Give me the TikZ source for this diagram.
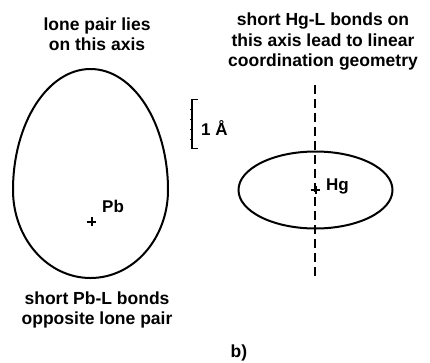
\documentclass[tikz,border=0pt]{standalone}
\usepackage{fontspec}
\setmainfont{Liberation Sans}
\begin{document}
\begin{tikzpicture}[x=1pt,y=-1pt,
  lbl/.style={font=\bfseries\fontsize{17.5}{20.5}\selectfont, align=center, inner sep=0pt},
  atom/.style={font=\bfseries\fontsize{17}{20}\selectfont, inner sep=0pt},
  orb/.style={line width=2pt},
  crs/.style={line width=2pt},
  axis/.style={line width=1.3pt, dash pattern=on 9pt off 5pt}]
\useasboundingbox (0,0) rectangle (430,362);
% titles
\node[lbl] (t1) at (97,34) {lone pair lies\\on this axis};
\node[lbl] (t2) at (323,42) {short Hg-L bonds on\\this axis lead to linear\\coordination geometry};
\node[lbl] (t3) at (97,310) {short Pb-L bonds\\opposite lone pair};
\node[lbl] (b) at (239,353) {b)};
% Pb egg
\coordinate (eT) at (90.5,69);
\coordinate (eR) at (168,190);
\coordinate (eB) at (90.5,278);
\coordinate (eL) at (13,190);
\draw[orb] (eT) .. controls (133.3,69) and (168,123.2) .. (eR)
  .. controls (168,238.6) and (133.3,278) .. (eB)
  .. controls (47.7,278) and (13,238.6) .. (eL)
  .. controls (13,123.2) and (47.7,69) .. (eT) -- cycle;
\coordinate (pb) at (91.5,221.5);
\draw[crs] ([xshift=-4.5pt]pb) -- ([xshift=4.5pt]pb) ([yshift=-4.5pt]pb) -- ([yshift=4.5pt]pb);
\node[atom, anchor=base west] (pbl) at (102,212) {Pb};
% scale bar
\coordinate (sT) at (192,99.5);
\coordinate (sB) at (192,148.5);
\draw[line width=1.4pt] ([xshift=6pt]sT) -- (sT) -- (sB) -- ([xshift=6pt]sB);
\foreach \d in {10,20,30,40}
  \draw[line width=0.6pt] ([yshift=-\d pt]sT) -- ++(-2.5,0);
\node[atom, anchor=base west] (sc) at (201,135) {1 Å};
% Hg
\coordinate (hg) at (315.5,190);
\draw[axis] (315,85) coordinate (aT) -- (315,277) coordinate (aB);
\draw[orb] (hg) ellipse [x radius=77, y radius=38.5];
\draw[crs] ([xshift=-4.5pt]hg) -- ([xshift=4.5pt]hg) ([yshift=-4pt]hg) -- ([yshift=4pt]hg);
\node[atom, anchor=base west] (hgl) at (326,190) {Hg};
\end{tikzpicture}
\end{document}
